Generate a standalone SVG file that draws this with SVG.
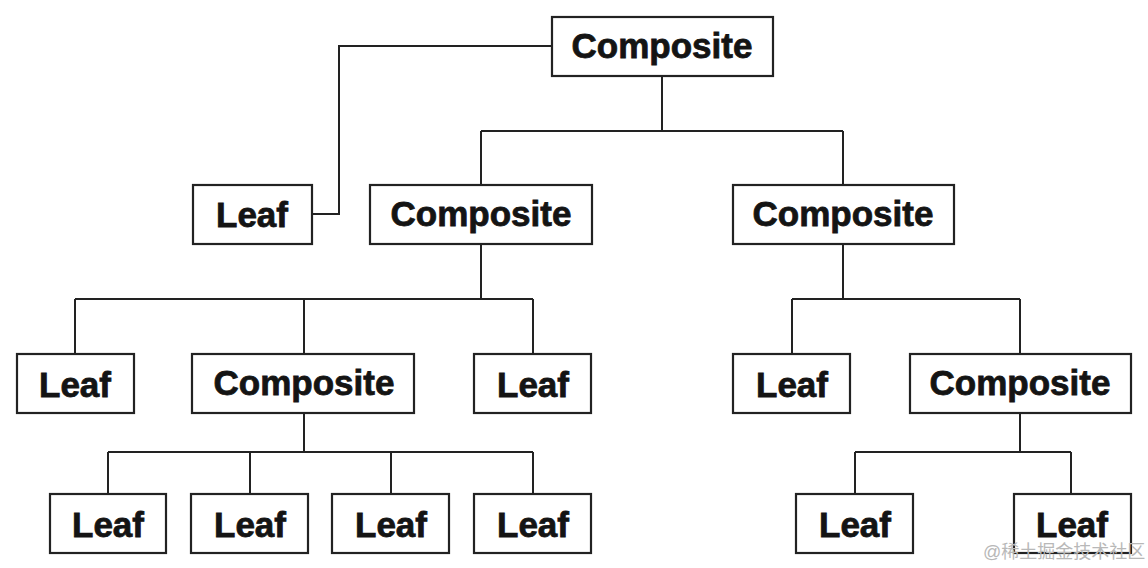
<svg xmlns="http://www.w3.org/2000/svg" width="1148" height="568" viewBox="0 0 1148 568">
<style>
.box{fill:#fff;stroke:#222;stroke-width:2.2}
.lbl{font-family:"Liberation Sans",Arial,sans-serif;font-weight:bold;font-size:35px;fill:#141414;stroke:#141414;stroke-width:0.8;text-anchor:middle}
.con{fill:none;stroke:#222;stroke-width:2}
.wm{font-family:"Liberation Sans","Noto Sans CJK SC",sans-serif;font-size:18px;fill:#b8b8b8}
</style>
<rect width="1148" height="568" fill="#fff"/>
<g id="connectors" class="con">
<path d="M552 46H339V214H312"/>
<path d="M662 76V131M481 131H843M481 131V185M843 131V185"/>
<path d="M481 244V299M75 299H533M75 299V354M304 299V354M533 299V354"/>
<path d="M843 244V299M792 299H1020M792 299V354M1020 299V354"/>
<path d="M304 413V452M108 452H533M108 452V494M250 452V494M391 452V494M533 452V494"/>
<path d="M1020 413V452M855 452H1071M855 452V494M1071 452V494"/>
</g>
<g id="n0"><rect class="box" x="552" y="17" width="221" height="59"/><text class="lbl" x="662" y="58">Composite</text></g>
<g id="n1"><rect class="box" x="193" y="185" width="119" height="59"/><text class="lbl" x="252" y="227">Leaf</text></g>
<g id="n2"><rect class="box" x="370" y="185" width="222" height="59"/><text class="lbl" x="481" y="226">Composite</text></g>
<g id="n3"><rect class="box" x="733" y="185" width="221" height="59"/><text class="lbl" x="843" y="226">Composite</text></g>
<g id="n4"><rect class="box" x="17" y="354" width="117" height="59"/><text class="lbl" x="75" y="397">Leaf</text></g>
<g id="n5"><rect class="box" x="192" y="354" width="222" height="59"/><text class="lbl" x="304" y="395">Composite</text></g>
<g id="n6"><rect class="box" x="474" y="354" width="117" height="59"/><text class="lbl" x="533" y="397">Leaf</text></g>
<g id="n7"><rect class="box" x="733" y="354" width="117" height="59"/><text class="lbl" x="792" y="397">Leaf</text></g>
<g id="n8"><rect class="box" x="910" y="354" width="221" height="59"/><text class="lbl" x="1020" y="395">Composite</text></g>
<g id="n9"><rect class="box" x="50" y="494" width="116" height="59"/><text class="lbl" x="108" y="537">Leaf</text></g>
<g id="n10"><rect class="box" x="191" y="494" width="117" height="59"/><text class="lbl" x="250" y="537">Leaf</text></g>
<g id="n11"><rect class="box" x="332" y="494" width="117" height="59"/><text class="lbl" x="391" y="537">Leaf</text></g>
<g id="n12"><rect class="box" x="474" y="494" width="117" height="59"/><text class="lbl" x="533" y="537">Leaf</text></g>
<g id="n13"><rect class="box" x="796" y="494" width="117" height="59"/><text class="lbl" x="855" y="537">Leaf</text></g>
<g id="n14"><rect class="box" x="1014" y="494" width="117" height="59"/><text class="lbl" x="1072" y="537">Leaf</text></g>
<text class="wm" x="983" y="558">@稀土掘金技术社区</text>
</svg>
